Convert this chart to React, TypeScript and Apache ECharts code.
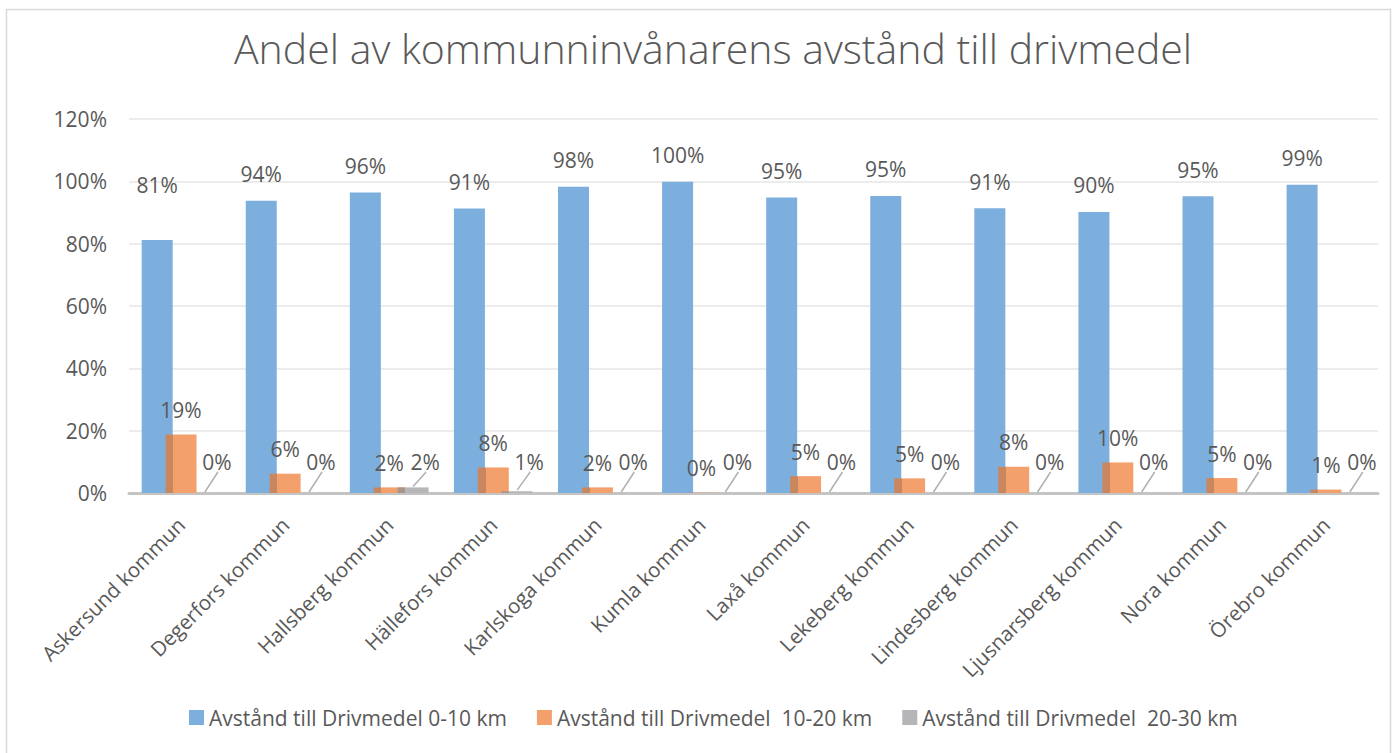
import React, { useEffect, useRef } from "react";
import * as echarts from "echarts";

const categories = [
  "Askersund kommun",
  "Degerfors kommun",
  "Hallsberg kommun",
  "Hällefors kommun",
  "Karlskoga kommun",
  "Kumla kommun",
  "Laxå kommun",
  "Lekeberg kommun",
  "Lindesberg kommun",
  "Ljusnarsberg kommun",
  "Nora kommun",
  "Örebro kommun",
];
const seriesNames = [
  "Avstånd till Drivmedel 0-10 km",
  "Avstånd till Drivmedel  10-20 km",
  "Avstånd till Drivmedel  20-30 km",
];
const near = [81.2, 93.8, 96.4, 91.3, 98.3, 99.9, 94.8, 95.3, 91.4, 90.2, 95.2, 98.9];
const mid = [18.8, 6.2, 1.8, 8.2, 1.8, 0.1, 5.4, 4.7, 8.4, 9.8, 4.8, 1.1];
const far = [0, 0, 1.8, 0.6, 0, 0, 0, 0, 0, 0, 0, 0];
const yTicks = [0, 20, 40, 60, 80, 100, 120];

const FONT = "'Open Sans', 'Noto Sans', sans-serif";
const TXT = "#595959";
const BLUE = "#7cafdd";
const ORANGE = "#f3a06c";
const GRAY = "#b6b6b8";

export default function App() {
  const ref = useRef<HTMLDivElement>(null);
  useEffect(() => {
    if (!ref.current) return;
    const chart = echarts.init(ref.current, undefined, { renderer: "svg" });
    const pct = (p: any) => Math.round(p.value) + "%";
    const barW = 31;
    const gapRatio = -0.23;
    const gap = gapRatio * 100 + "%";
    const step = barW * (1 + gapRatio);
    const stripe = (dark: string, main: string) => ({
      type: "linear",
      x: 0,
      y: 0,
      x2: 1,
      y2: 0,
      colorStops: [
        { offset: 0, color: dark },
        { offset: 0.25, color: dark },
        { offset: 0.25, color: main },
        { offset: 1, color: main },
      ],
    });
    const labelBase = {
      show: true,
      position: "top",
      fontSize: 21,
      color: TXT,
      fontFamily: FONT,
      formatter: pct,
    };
    chart.setOption({
      animation: false,
      backgroundColor: "#ffffff",
      textStyle: { fontFamily: FONT },
      title: {
        text: "Andel av kommunninvånarens avstånd till drivmedel",
        left: 229,
        top: 22,
        textStyle: { fontFamily: FONT, fontSize: 41, fontWeight: 300, color: TXT },
      },
      legend: {
        bottom: 20,
        left: 184,
        itemWidth: 15,
        itemHeight: 15,
        itemGap: 30,
        icon: "rect",
        textStyle: { fontFamily: FONT, fontSize: 21, color: TXT },
        data: [
          { name: seriesNames[0], itemStyle: { color: BLUE } },
          { name: seriesNames[1], itemStyle: { color: ORANGE } },
          { name: seriesNames[2], itemStyle: { color: GRAY } },
        ],
      },
      grid: { left: 129, right: 19, top: 119, bottom: 260, containLabel: false },
      xAxis: {
        type: "category",
        data: categories,
        axisTick: { show: false },
        axisLine: { lineStyle: { color: "#c4c4c4", width: 3 } },
        axisLabel: {
          interval: 0,
          rotate: 45,
          margin: 28,
          fontSize: 20.5,
          color: TXT,
          fontFamily: FONT,
        },
      },
      yAxis: {
        type: "value",
        min: yTicks[0],
        max: yTicks[yTicks.length - 1],
        interval: 20,
        axisLine: { show: false },
        axisTick: { show: false },
        splitLine: { lineStyle: { color: "#ececec", width: 2 } },
        axisLabel: {
          formatter: "{value}%",
          fontSize: 21,
          margin: 22,
          color: TXT,
          fontFamily: FONT,
        },
      },
      series: [
        {
          name: seriesNames[0],
          type: "bar",
          barWidth: barW,
          barGap: gap,
          itemStyle: { color: BLUE },
          data: near.map((v, i) =>
            i === 0 ? { value: v, label: { distance: 44 } } : v
          ),
          label: { ...labelBase, distance: 16 },
        },
        {
          name: seriesNames[1],
          type: "bar",
          barWidth: barW,
          barGap: gap,
          itemStyle: { color: stripe("#c9875f", ORANGE) },
          data: mid,
          label: { ...labelBase, distance: 14 },
        },
        {
          name: seriesNames[2],
          type: "bar",
          barWidth: barW,
          barGap: gap,
          itemStyle: { color: stripe("#a8968b", GRAY) },
          data: far,
          label: { show: false },
        },
        {
          name: "labels20",
          type: "custom",
          silent: true,
          z: 5,
          data: far.map((v, i) => [i, v]),
          renderItem: (params: any, api: any) => {
            const top = api.coord([api.value(0), api.value(1)]);
            const base = api.coord([api.value(0), 0]);
            const cx = top[0] + step;
            const lx = cx + 12;
            const ly = base[1] - 31;
            return {
              type: "group",
              children: [
                {
                  type: "line",
                  shape: { x1: cx, y1: top[1] - 1, x2: lx + 1, y2: base[1] - 21 },
                  style: { stroke: "#b0b0b0", lineWidth: 1.5 },
                },
                {
                  type: "text",
                  x: lx,
                  y: ly,
                  style: {
                    text: Math.round(api.value(1)) + "%",
                    fill: TXT,
                    fontSize: 21,
                    fontFamily: FONT,
                    align: "center",
                    verticalAlign: "middle",
                  },
                },
              ],
            };
          },
        },
      ],
      graphic: [
        {
          type: "rect",
          shape: { x: 6.5, y: 9.5, width: 1384, height: 760 },
          style: { fill: "none", stroke: "#d9d9d9", lineWidth: 1.5 },
          silent: true,
          z: -1,
        },
      ],
    });
    return () => chart.dispose();
  }, []);
  return (
    <div
      ref={ref}
      style={{ position: "fixed", left: 0, top: 0, width: 1397, height: 753 }}
    />
  );
}
